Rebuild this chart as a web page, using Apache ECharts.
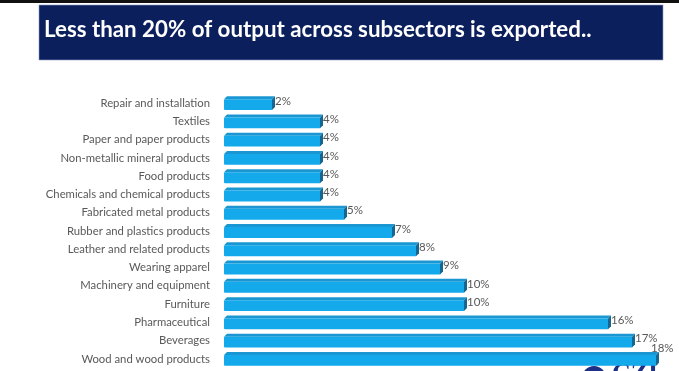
<!DOCTYPE html>
<html><head><meta charset="utf-8">
<script src="https://cdn.jsdelivr.net/npm/echarts@6/dist/echarts.min.js"></script>
<style>html,body{margin:0;padding:0;background:#fff}#c{width:679px;height:371px}</style>
</head><body><div id="c"></div>
<script>
var titleText = 'Less than 20% of output across subsectors is exported..';
var categories = ['Repair and installation','Textiles','Paper and paper products','Non-metallic mineral products','Food products','Chemicals and chemical products','Fabricated metal products','Rubber and plastics products','Leather and related products','Wearing apparel','Machinery and equipment','Furniture','Pharmaceutical','Beverages','Wood and wood products'];
var values = [2,4,4,4,4,4,5,7,8,9,10,10,16,17,18];

var chart = echarts.init(document.getElementById('c'), null, {renderer:'canvas'});
var data = values.map(function(v,i){return [v,i];});
var CW = 679;
var LBL_FONT = '11.5px Lato, "Liberation Sans", Arial, sans-serif';
function renderItem(params, api){
  var v = api.value(0), idx = api.value(1);
  var p0 = api.coord([0, idx]);
  var p1 = api.coord([v, idx]);
  var band = api.size([0,1])[1];
  var h = band*0.76;
  var d = 3;
  var x0 = p0[0], x1 = p1[0], yt = p0[1]-h/2, yb = p0[1]+h/2;
  var lx = x1 + d, ly = p0[1]-8;
  var txt = v + '%';
  if (lx + 22 > CW) { lx = x1 - 5; ly = p0[1]-17; }
  return {type:'group', children:[
    {type:'polygon', shape:{points:[[x0,yt+d],[x0+d,yt],[x1+d,yt],[x1,yt+d]]}, style:{fill:'#1a97d2'}},
    {type:'rect', shape:{x:x0,y:yt+d,width:x1-x0,height:yb-yt-d, r:[1,0,0,1]}, style:{fill:'#13a9eb'}},
    {type:'polygon', shape:{points:[[x1,yt+d],[x1+d,yt],[x1+d,yb-d],[x1,yb]]}, style:{fill:'#17668f'}},
    {type:'text', style:{text:txt, x:lx, y:ly, fill:'#595959', font:LBL_FONT}}
  ]};
}
chart.setOption({
  animation:false,
  graphic:[
    {type:'rect', shape:{x:0,y:0,width:679,height:3}, style:{fill:'#111'}},
    {type:'rect', shape:{x:39,y:5,width:624,height:55}, style:{fill:'#0b1f5c', stroke:'#8da0c8', lineWidth:0.6}},
    {type:'text', left:44, top:19, style:{text:titleText, fill:'#ffffff', font:'bold 22.3px Lato, "Open Sans", sans-serif'}},
    {type:'circle', shape:{cx:594,cy:378,r:12}, style:{fill:'#1e2f86'}},
    {type:'text', left:612, top:361, style:{text:'CZI', fill:'#1e2f86', font:'bold 26px "Liberation Serif", serif'}}
  ],
  grid:{left:224, top:94, width:432, height:274, containLabel:false},
  xAxis:{type:'value', min:0, max:18, show:false},
  yAxis:{type:'category', data:categories, inverse:true,
    axisLine:{show:false}, axisTick:{show:false},
    axisLabel:{color:'#595959', fontSize:11.3, margin:14, fontFamily:'Lato, "Liberation Sans", Arial, sans-serif'}},
  series:[{type:'custom', renderItem:renderItem, encode:{x:0,y:1}, data:data, clip:false}]
});
</script></body></html>
